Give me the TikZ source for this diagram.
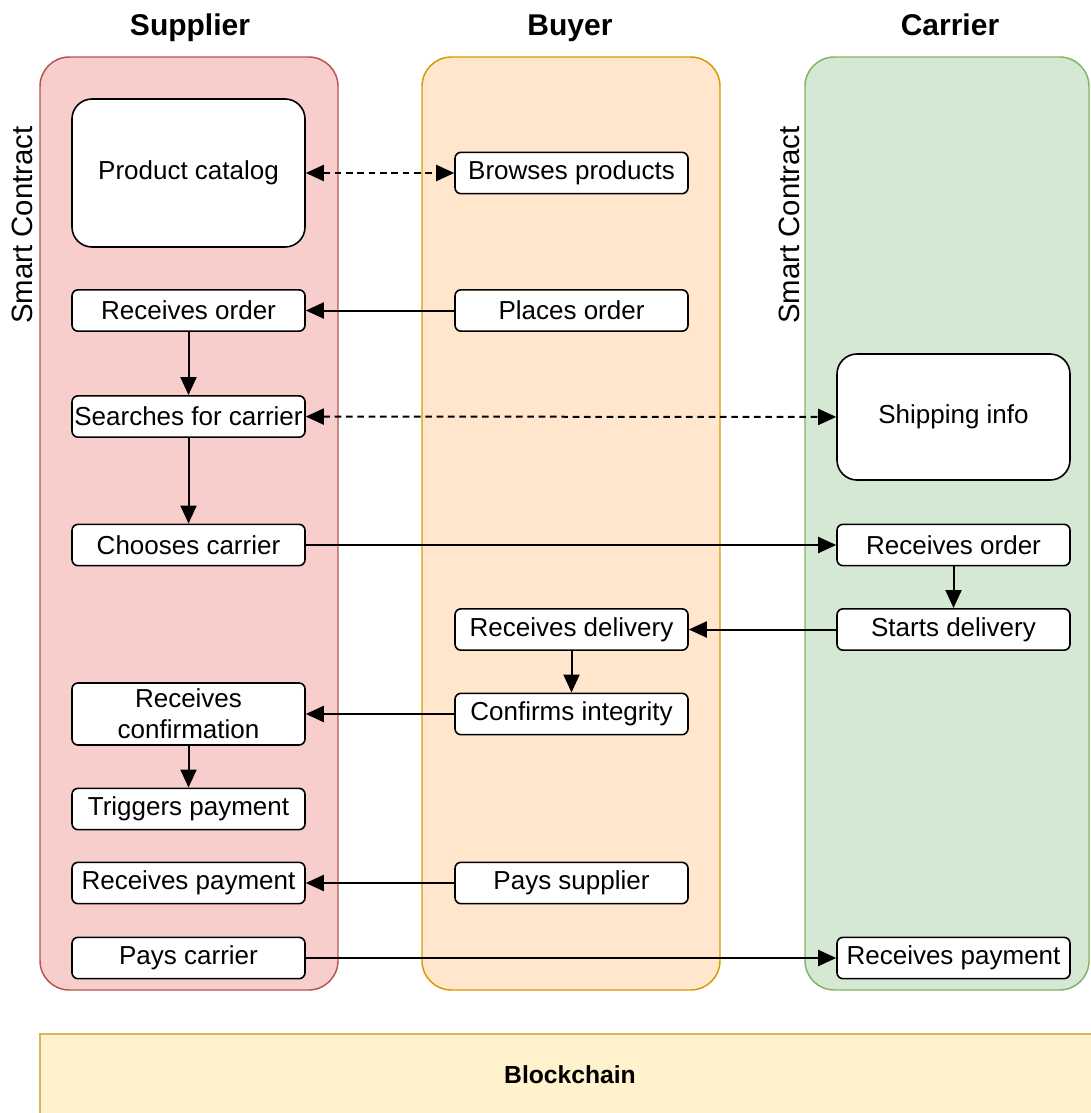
\documentclass[tikz,border=0pt]{standalone}
\usepackage{fontspec}
\setmainfont{Liberation Sans}
\usetikzlibrary{arrows.meta}
\definecolor{supfill}{HTML}{F8CECC}
\definecolor{supline}{HTML}{B85450}
\definecolor{buyfill}{HTML}{FFE6CC}
\definecolor{buyline}{HTML}{D79B00}
\definecolor{carfill}{HTML}{D5E8D4}
\definecolor{carline}{HTML}{82B366}
\definecolor{bcfill}{HTML}{FFF2CC}
\definecolor{bcline}{HTML}{D6B656}
\tikzset{
  x=0.75pt, y=-0.75pt,
  stepbox/.style={draw=black, fill=white, line width=1.2pt, rounded corners=4.5pt,
    minimum width=174.75pt, minimum height=31pt, inner sep=0pt, align=center,
    font=\fontsize{19.5}{23}\selectfont},
  bigbox/.style={stepbox, rounded corners=15pt},
  lane/.style={line width=1.1pt, rounded corners=22pt},
  title/.style={font=\fontsize{22.5}{26}\selectfont\bfseries, anchor=base},
  sclabel/.style={rotate=90, font=\fontsize{22}{26}\selectfont},
  flow/.style={line width=1.5pt, -{Triangle[length=13.5pt,width=12pt]}},
  both/.style={line width=1.5pt, dash pattern=on 5pt off 3.5pt,
    {Triangle[length=13.5pt,width=12pt]}-{Triangle[length=13.5pt,width=12pt]}}
}
\begin{document}
\begin{tikzpicture}
\useasboundingbox (0,0) rectangle (1091,1113);
% lanes
\draw[lane, fill=supfill, draw=supline] (40,57) rectangle (338,990);
\draw[lane, fill=buyfill, draw=buyline] (422,57) rectangle (720,990);
\draw[lane, fill=carfill, draw=carline] (805,57) rectangle (1089,990);
% blockchain
\fill[bcfill] (40,1034) rectangle (1091,1113);
\draw[bcline, line width=1.1pt] (40,1113) -- (40,1034) -- (1091,1034);
\node[font=\fontsize{18.5}{22}\selectfont\bfseries] (bc) at (570,1075) {Blockchain};
% titles
\node[title] (tsup) at (190,36) {Supplier};
\node[title] (tbuy) at (570,36) {Buyer};
\node[title] (tcar) at (950,36) {Carrier};
\node[sclabel] (sc1) at (22,225) {Smart Contract};
\node[sclabel] (sc2) at (789,225) {Smart Contract};
% nodes
\node[bigbox, minimum height=111pt] (pc) at (188.5,173) {Product catalog};
\node[stepbox] (bp) at (571.5,173) {Browses products};
\node[stepbox] (ro) at (188.5,310.5) {Receives order};
\node[stepbox] (po) at (571.5,310.5) {Places order};
\node[stepbox] (sc) at (188.5,416.5) {Searches for carrier};
\node[bigbox, minimum height=94.5pt] (si) at (953.5,417) {Shipping info};
\node[stepbox] (cc) at (188.5,545) {Chooses carrier};
\node[stepbox] (roc) at (953.5,545) {Receives order};
\node[stepbox] (sd) at (953.5,629.5) {Starts delivery};
\node[stepbox] (rd) at (571.5,629.5) {Receives delivery};
\node[stepbox, minimum height=46.5pt] (rc) at (188.5,714) {Receives\\confirmation};
\node[stepbox] (ci) at (571.5,714) {Confirms integrity};
\node[stepbox] (tp) at (188.5,809) {Triggers payment};
\node[stepbox] (rp) at (188.5,883) {Receives payment};
\node[stepbox] (ps) at (571.5,883) {Pays supplier};
\node[stepbox] (pca) at (188.5,958) {Pays carrier};
\node[stepbox] (rpc) at (953.5,958) {Receives payment};
% connectors
\draw[both] (pc) -- (bp);
\draw[flow] (po) -- (ro);
\draw[flow] (ro) -- (sc);
\draw[both] (sc) -- (si);
\draw[flow] (sc) -- (cc);
\draw[flow] (cc) -- (roc);
\draw[flow] (roc) -- (sd);
\draw[flow] (sd) -- (rd);
\draw[flow] (rd) -- (ci);
\draw[flow] (ci) -- (rc);
\draw[flow] (rc) -- (tp);
\draw[flow] (ps) -- (rp);
\draw[flow] (pca) -- (rpc);
\end{tikzpicture}
\end{document}
